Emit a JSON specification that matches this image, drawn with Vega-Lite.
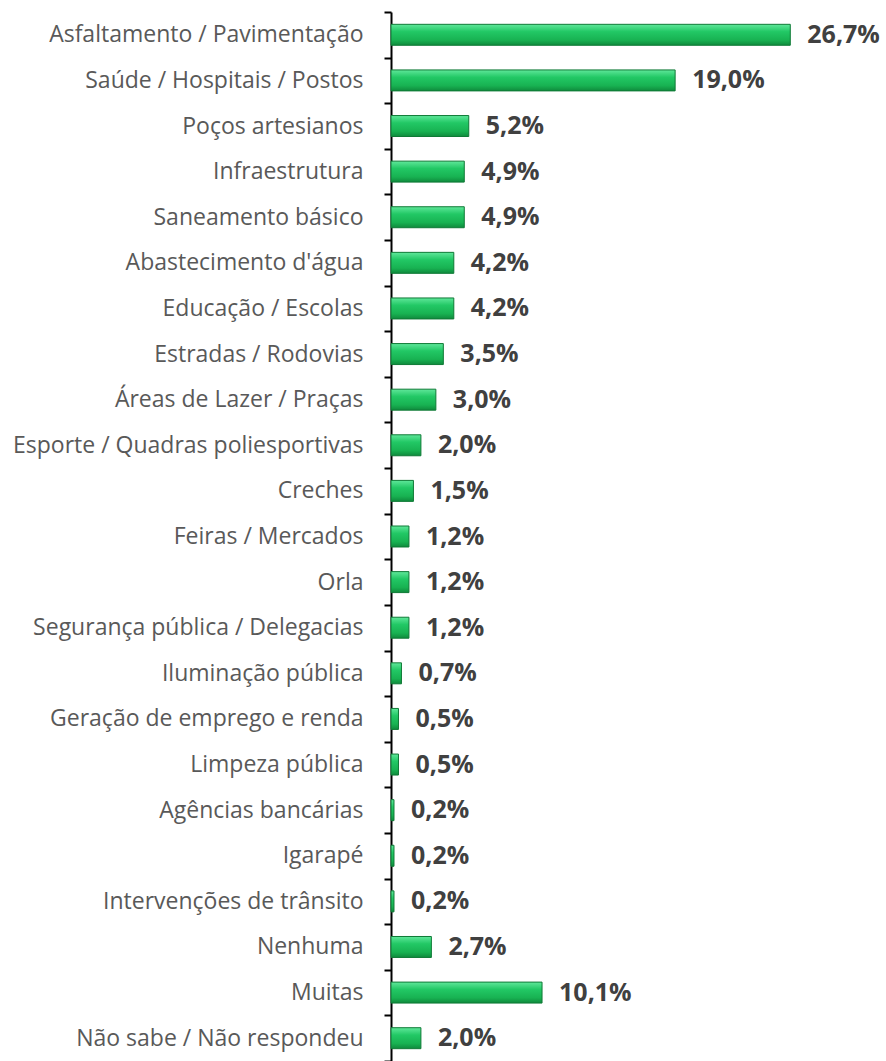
{
  "$schema": "https://vega.github.io/schema/vega-lite/v6.json",
  "autosize": {"type": "none"},
  "padding": {"left": 391, "top": 12, "right": 0, "bottom": 0},
  "width": 495,
  "height": 1049,
  "background": "white",
  "config": {
    "view": {"stroke": null},
    "locale": {"number": {"decimal": ",", "thousands": ".", "grouping": [3], "currency": ["R$", ""]}}
  },
  "data": {
    "values": [
      {"categoria": "Asfaltamento / Pavimentação", "pct": 0.267},
      {"categoria": "Saúde / Hospitais / Postos", "pct": 0.190},
      {"categoria": "Poços artesianos", "pct": 0.052},
      {"categoria": "Infraestrutura", "pct": 0.049},
      {"categoria": "Saneamento básico", "pct": 0.049},
      {"categoria": "Abastecimento d'água", "pct": 0.042},
      {"categoria": "Educação / Escolas", "pct": 0.042},
      {"categoria": "Estradas / Rodovias", "pct": 0.035},
      {"categoria": "Áreas de Lazer / Praças", "pct": 0.030},
      {"categoria": "Esporte / Quadras poliesportivas", "pct": 0.020},
      {"categoria": "Creches", "pct": 0.015},
      {"categoria": "Feiras / Mercados", "pct": 0.012},
      {"categoria": "Orla", "pct": 0.012},
      {"categoria": "Segurança pública / Delegacias", "pct": 0.012},
      {"categoria": "Iluminação pública", "pct": 0.007},
      {"categoria": "Geração de emprego e renda", "pct": 0.005},
      {"categoria": "Limpeza pública", "pct": 0.005},
      {"categoria": "Agências bancárias", "pct": 0.002},
      {"categoria": "Igarapé", "pct": 0.002},
      {"categoria": "Intervenções de trânsito", "pct": 0.002},
      {"categoria": "Nenhuma", "pct": 0.027},
      {"categoria": "Muitas", "pct": 0.101},
      {"categoria": "Não sabe / Não respondeu", "pct": 0.020}
    ]
  },
  "encoding": {
    "y": {
      "field": "categoria",
      "type": "nominal",
      "sort": null,
      "scale": {"paddingInner": 0, "paddingOuter": 0},
      "axis": {
        "title": null,
        "tickBand": "extent",
        "domainColor": "#000000",
        "domainWidth": 2,
        "tickColor": "#000000",
        "tickWidth": 2,
        "tickSize": 7,
        "labelPadding": 21,
        "labelFont": "Open Sans",
        "labelFontSize": 23,
        "labelColor": "#595959",
        "labelLimit": 420
      }
    },
    "x": {
      "field": "pct",
      "type": "quantitative",
      "scale": {"domain": [0, 0.331], "nice": false},
      "axis": null
    }
  },
  "layer": [
    {
      "mark": {
        "type": "bar",
        "height": {"band": 0.46},
        "stroke": "#0f7a36",
        "strokeWidth": 1,
        "color": {
          "gradient": "linear",
          "x1": 0, "y1": 0, "x2": 0, "y2": 1,
          "stops": [
            {"offset": 0, "color": "#5fe79a"},
            {"offset": 0.35, "color": "#22c865"},
            {"offset": 0.75, "color": "#18b252"},
            {"offset": 1, "color": "#0f8a3c"}
          ]
        }
      }
    },
    {
      "mark": {
        "type": "text",
        "align": "left",
        "baseline": "middle",
        "dx": 17,
        "font": "Open Sans",
        "fontSize": 25,
        "fontWeight": "bold",
        "color": "#404040"
      },
      "encoding": {
        "text": {"field": "pct", "type": "quantitative", "format": ".1%"}
      }
    }
  ]
}
